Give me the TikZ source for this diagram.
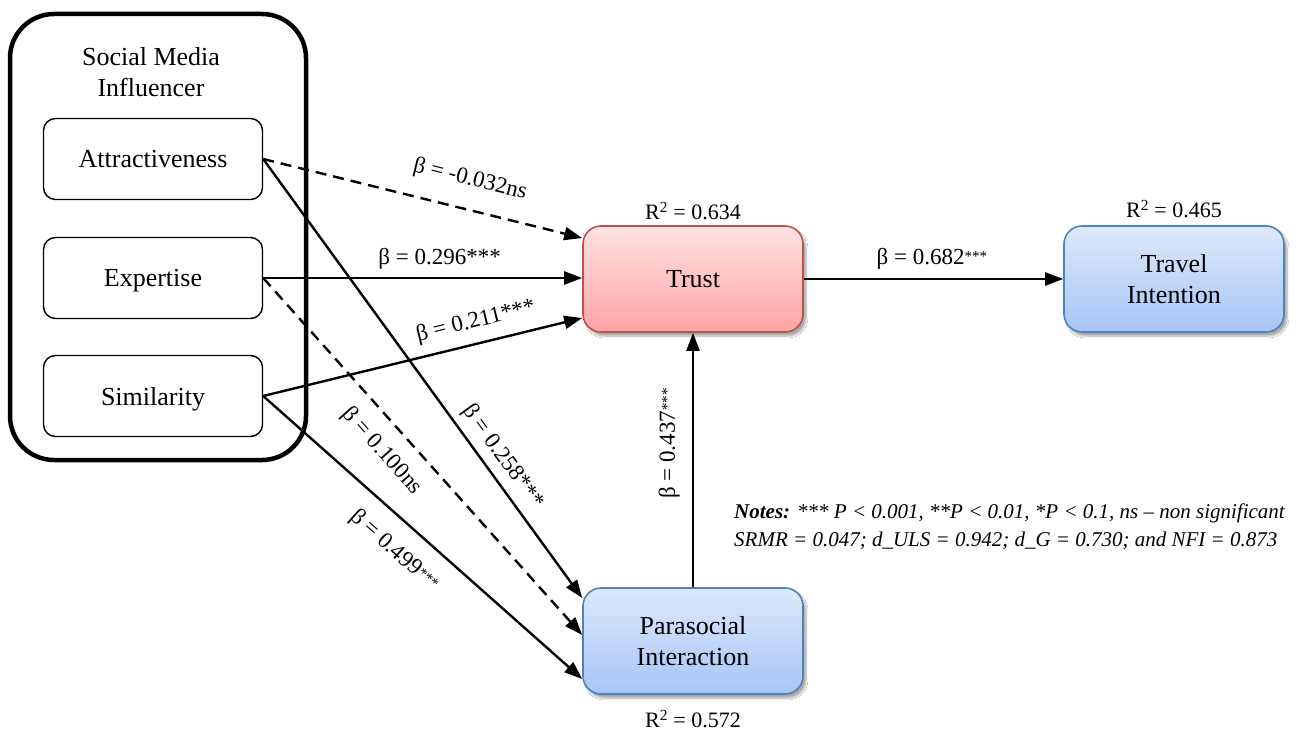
\documentclass[tikz,border=0pt]{standalone}
\usepackage{fontspec}
\setmainfont{Liberation Serif}
\usetikzlibrary{arrows.meta,shadows.blur}

\definecolor{trusttop}{HTML}{FFE2E2}
\definecolor{trustbottom}{HTML}{FFA4A4}
\definecolor{trustborder}{HTML}{C0504D}
\definecolor{bluetop}{HTML}{DDE9FB}
\definecolor{bluebottom}{HTML}{A6C5F7}
\definecolor{blueborder}{HTML}{4F81BD}

\newcommand{\smallstars}{\raisebox{3pt}{\fontsize{15}{15}\selectfont ***}}

\begin{document}
\begin{tikzpicture}[x=1pt,y=-1pt,
  every node/.style={font=\fontsize{26}{31}\selectfont},
  groupbox/.style={draw, line width=4.5pt, rounded corners=44pt,
    minimum width=296pt, minimum height=446pt, inner sep=0pt},
  factor/.style={draw, line width=1.4pt, rounded corners=12pt,
    minimum width=219pt, minimum height=81pt, inner sep=0pt, text depth=0pt},
  construct/.style={draw, line width=1.6pt, rounded corners=18pt,
    minimum width=220pt, minimum height=106pt, inner sep=0pt, align=center,
    blur shadow={shadow xshift=3pt, shadow yshift=-4pt, shadow opacity=35, shadow blur steps=8}},
  redbox/.style={construct, draw=trustborder, top color=trusttop, bottom color=trustbottom},
  bluebox/.style={construct, draw=blueborder, top color=bluetop, bottom color=bluebottom},
  link/.style={line width=2.4pt, -{Triangle[length=18pt,width=13pt]}},
  nslink/.style={link, dash pattern=on 11pt off 7pt},
  coef/.style={font=\fontsize{23}{23}\selectfont, inner sep=2pt, sloped},
  rsq/.style={font=\fontsize{22}{22}\selectfont, inner sep=0pt},
]
\useasboundingbox (0,0) rectangle (1303,733);
\fill[white] (0,0) rectangle (1303,733);

% influencer group
\node (smi) [groupbox] at (158,237) {};
\node (smititle) [align=center] at (151,72) {Social Media\\Influencer};
\node (attr) [factor] at (153,159) {Attractiveness};
\node (expe) [factor] at (153,278) {Expertise};
\node (simi) [factor] at (153,396) {Similarity};

% constructs
\node (trust) [redbox] at (693,279) {Trust};
\node (travel) [bluebox] at (1174,279) {Travel\\Intention};
\node (psi) [bluebox] at (693,641) {Parasocial\\Interaction};

% explained variance
\node (r2trust) [rsq] at (693,211) {R\textsuperscript{2} = 0.634};
\node (r2travel) [rsq] at (1174,209) {R\textsuperscript{2} = 0.465};
\node (r2psi) [rsq] at (693,719) {R\textsuperscript{2} = 0.572};

% paths to trust
\draw[nslink] (attr.east) -- ([yshift=41pt]trust.west)
  node[coef, pos=0.626, above=16pt] {β = -0.032ns};
\draw[link] (expe.east) -- (expe.east -| trust.west)
  node[coef, pos=0.553, above=5pt] {β = 0.296***};
\draw[link] (simi.east) -- ([yshift=-39pt]trust.west)
  node[coef, pos=0.683, above=8pt] {β = 0.211***};

% paths to parasocial interaction
\draw[link] (attr.east) -- ([yshift=43pt]psi.west)
  node[coef, pos=0.704, above=5pt] {β = 0.258***};
\draw[nslink] (expe.east) -- ([yshift=6pt]psi.west)
  node[coef, pos=0.435, below=13pt] {β = 0.100ns};
\draw[link] (simi.east) -- ([yshift=-38pt]psi.west)
  node[coef, pos=0.47, below=15pt] {β = 0.499\smallstars};

% parasocial interaction to trust, trust to travel intention
\draw[link] (psi.north) -- (trust.south)
  node[coef, pos=0.565, above=10pt] {β = 0.437\smallstars};
\draw[link] (trust.east) -- (travel.west)
  node[coef, pos=0.494, above=6pt] {β = 0.682\smallstars};

% notes
\node (notes) [anchor=north west, align=left, inner sep=0pt,
  font=\fontsize{21}{28}\selectfont\itshape] at (734,504)
  {\textbf{Notes:} *** P < 0.001, **P < 0.01, *P < 0.1, ns – non significant\\
   SRMR = 0.047; d\_ULS = 0.942; d\_G = 0.730; and NFI = 0.873};
\end{tikzpicture}
\end{document}
